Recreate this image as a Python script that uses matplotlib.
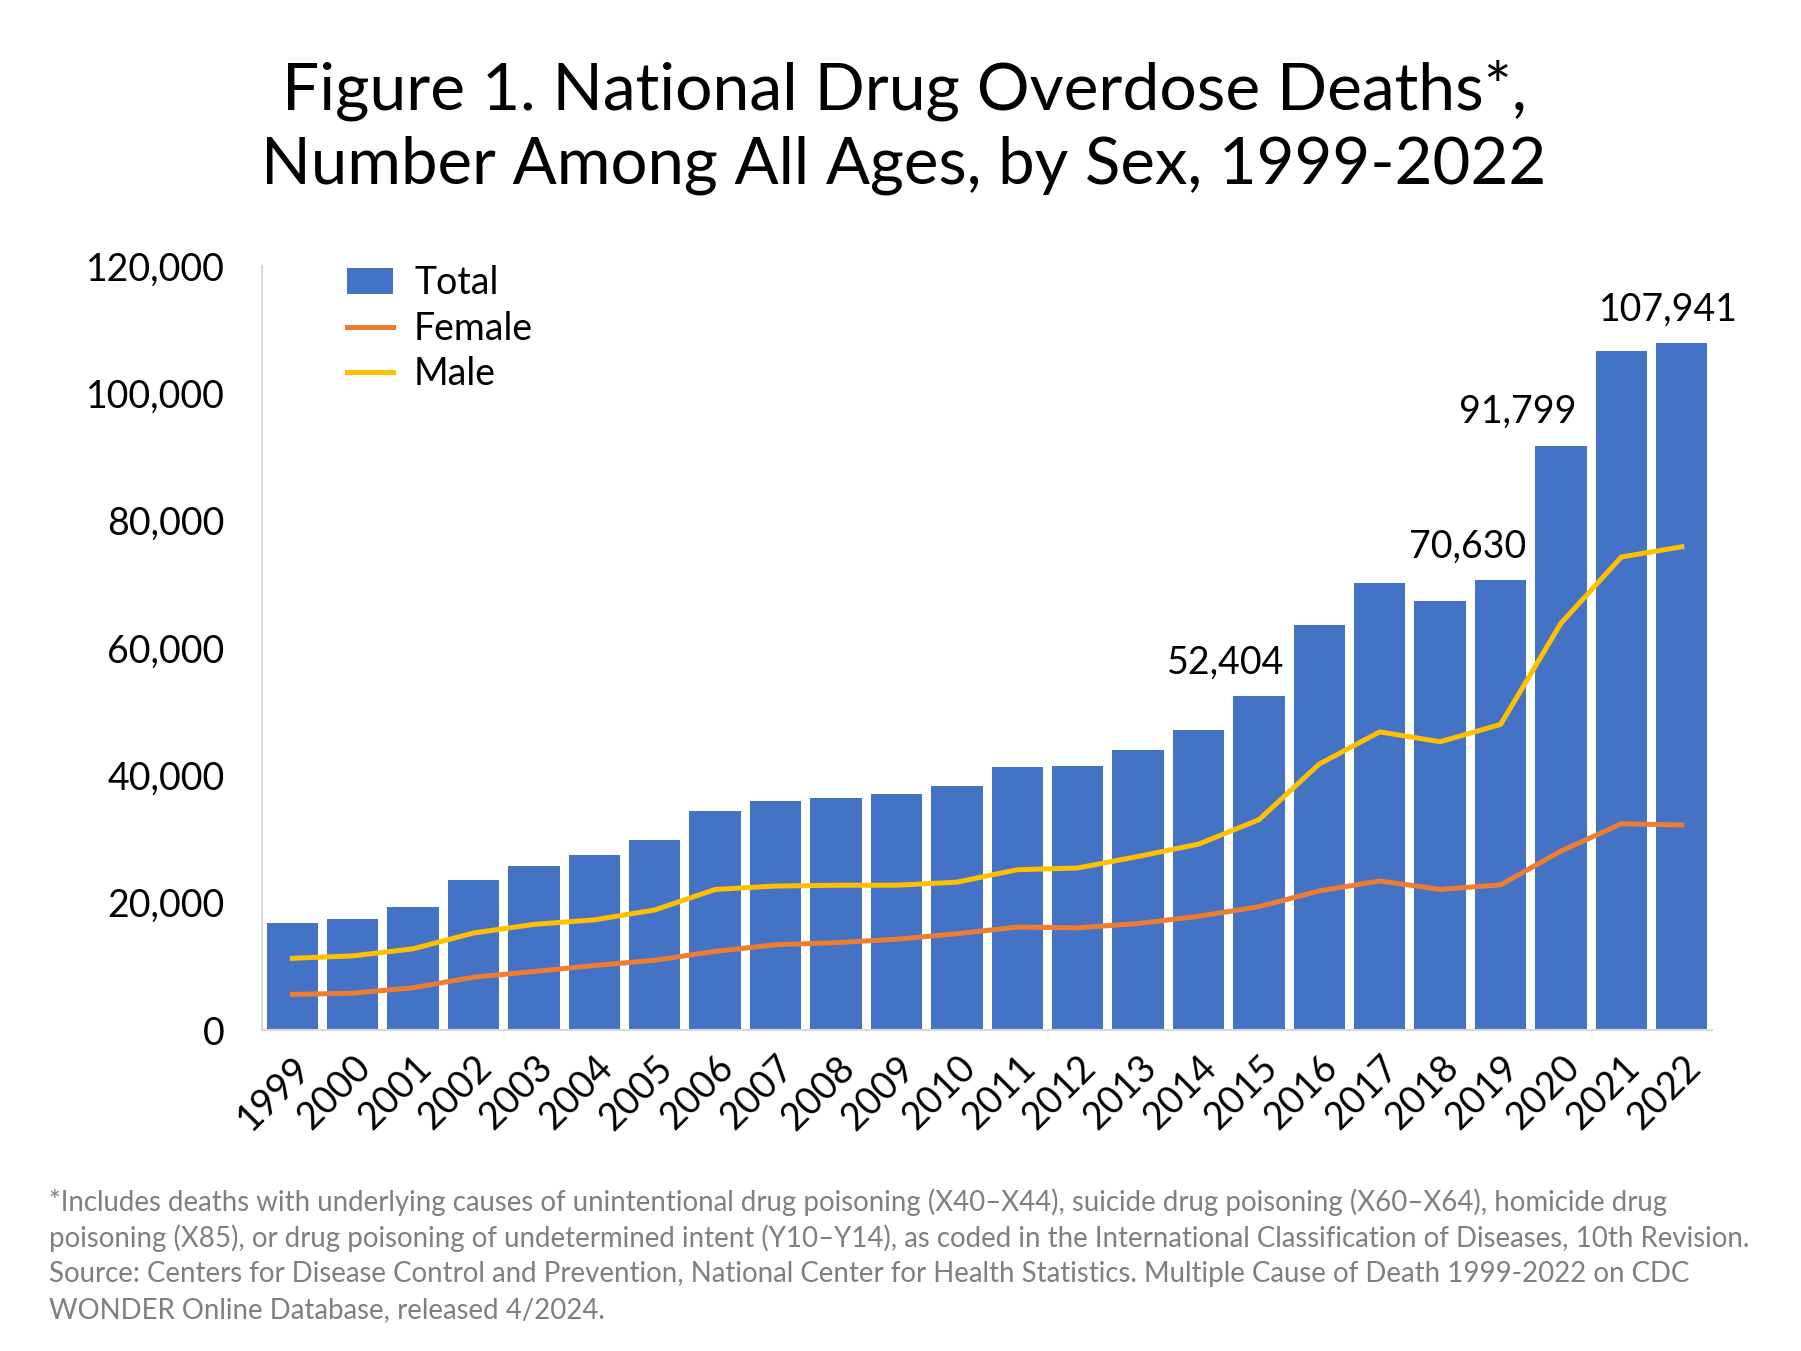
import matplotlib
matplotlib.use("Agg")
import matplotlib.pyplot as plt
from matplotlib.ticker import FuncFormatter
import numpy as np

plt.rcParams['font.family'] = ['Lato', 'DejaVu Sans']

years = [str(y) for y in range(1999, 2023)]
total = [16849, 17415, 19394, 23518, 25785, 27424, 29813, 34425, 36010, 36450,
         37004, 38329, 41340, 41502, 43982, 47055, 52404, 63632, 70237, 67367,
         70630, 91799, 106699, 107941]
female = [5591, 5775, 6641, 8284, 9193, 10125, 10960, 12351, 13395, 13716,
          14261, 15111, 16165, 16052, 16722, 17864, 19374, 21851, 23409, 22090,
          22800, 28100, 32400, 32200]
male = [11258, 11640, 12753, 15234, 16592, 17299, 18853, 22074, 22615, 22734,
        22743, 23218, 25175, 25450, 27260, 29191, 33030, 41781, 46828, 45277,
        48000, 63900, 74300, 75900]
labelled_years = ["2015", "2019", "2020", "2022"]
label_shift = [-0.55, -0.55, -0.71, -0.23]

footnote = [
    "*Includes deaths with underlying causes of unintentional drug poisoning (X40\u2013X44), suicide drug poisoning (X60\u2013X64), homicide drug",
    "poisoning (X85), or drug poisoning of undetermined intent (Y10\u2013Y14), as coded in the International Classification of Diseases, 10th Revision.",
    "Source: Centers for Disease Control and Prevention, National Center for Health Statistics. Multiple Cause of Death 1999-2022 on CDC",
    "WONDER Online Database, released 4/2024.",
]

fig = plt.figure(figsize=(18.01, 13.51), dpi=100)
ax = fig.add_axes([0.1455, 0.2376, 0.8051, 0.5655])

x = np.arange(len(years))
bars = ax.bar(x, total, width=0.85, color="#4472C4", label="Total", zorder=2)
l_f, = ax.plot(x, female, color="#ED7D31", lw=3.6, label="Female", zorder=3)
l_m, = ax.plot(x, male, color="#FFC000", lw=3.6, label="Male", zorder=3)

for yr, dx in zip(labelled_years, label_shift):
    i = years.index(yr)
    ax.annotate(f"{total[i]:,}", (x[i] + dx, total[i]), xytext=(0, 24),
                textcoords="offset points", ha="center", va="center", fontsize=27)

ax.set_xlim(-0.5, len(years) - 0.5)
ax.set_ylim(0, 120000)
ax.set_yticks(range(0, 120001, 20000))
ax.yaxis.set_major_formatter(FuncFormatter(lambda v, p: f"{int(v):,}"))
ax.set_xticks(x)
ax.set_xticklabels(years, rotation=45, ha="right", rotation_mode="anchor")
ax.tick_params(axis="both", length=0, labelsize=27)
ax.tick_params(axis="y", pad=27)
ax.tick_params(axis="x", pad=14)
for s in ["top", "right"]:
    ax.spines[s].set_visible(False)
for s in ["left", "bottom"]:
    ax.spines[s].set_color("#d9d9d9")
    ax.spines[s].set_linewidth(1.5)

ax.legend([bars, l_f, l_m], ["Total", "Female", "Male"], loc="upper left",
          bbox_to_anchor=(0.035, 1.045), frameon=False, fontsize=27,
          handlelength=1.25, handleheight=0.7, labelspacing=0.25, handletextpad=0.55)

fig.text(0.502, 0.933, "Figure 1. National Drug Overdose Deaths*,", ha="center", va="center", fontsize=47.5)
fig.text(0.502, 0.878, "Number Among All Ages, by Sex, 1999-2022", ha="center", va="center", fontsize=47)

for k, line in enumerate(footnote):
    fig.text(0.027, 1 - (1202 + 36 * k) / 1351, line, ha="left", va="center",
             fontsize=19.9, color="#7f7f7f")

fig.savefig("out.png", dpi=100)
